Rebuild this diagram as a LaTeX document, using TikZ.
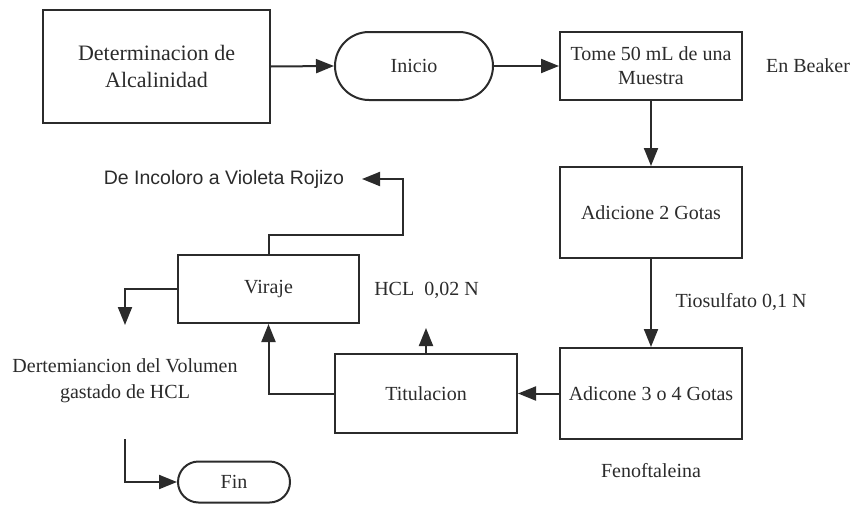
\documentclass[tikz,border=0pt]{standalone}
\usepackage{fontspec}
\setmainfont{Liberation Serif}
\newfontfamily\sansf{Liberation Sans}
\usetikzlibrary{arrows.meta,shapes.misc}
\definecolor{ink}{HTML}{2B2B2B}
\tikzset{
  box/.style={draw=ink, line width=2pt, rectangle, align=center, text=ink,
    inner sep=0pt, font=\fontsize{20}{24}\selectfont},
  pill/.style={box, rounded rectangle, rounded rectangle arc length=180},
  lbl/.style={text=ink, align=center, inner sep=0pt, font=\fontsize{20}{24}\selectfont},
  arr/.style={draw=ink, line width=2pt, -{Triangle[length=18pt,width=14pt]}},
  ln/.style={draw=ink, line width=2pt}
}
\begin{document}
\begin{tikzpicture}[x=1pt,y=-1pt]
\useasboundingbox (0,0) rectangle (851,506);

% process boxes
\node[box, minimum width=227pt, minimum height=113pt,
      font=\fontsize{22}{27}\selectfont] (det) at (156.5,66.5)
      {Determinacion de\\Alcalinidad};
\node[pill, minimum width=158pt, minimum height=68pt] (ini) at (414,66) {Inicio};
\node[box, minimum width=182pt, minimum height=68pt] (tome) at (651,66)
      {Tome 50 mL de una\\Muestra};
\node[box, minimum width=182pt, minimum height=91pt] (ad2) at (651,212.5) {Adicione 2 Gotas};
\node[box, minimum width=182pt, minimum height=91pt] (ad3) at (651,393.5) {Adicone 3 o 4 Gotas};
\node[box, minimum width=182pt, minimum height=79pt] (tit) at (426,393.5) {Titulacion};
\node[box, minimum width=181pt, minimum height=68pt] (vir) at (268.5,289) {Viraje};
\node[pill, minimum width=112pt, minimum height=41pt] (fin) at (234,482) {Fin};

% free labels
\node[lbl] (beaker) at (808,66) {En Beaker};
\node[lbl] (tio) at (741,302) {Tiosulfato 0,1 N};
\node[lbl] (feno) at (651,471) {Fenoftaleina};
\node[lbl] (hcl) at (426.5,290) {HCL\ \ 0,02 N};
\node[lbl, font=\sansf\fontsize{19.5}{24}\selectfont] (roj) at (224,179) {De Incoloro a Violeta Rojizo};
\node[lbl, font=\fontsize{20}{26}\selectfont] (vol) at (125,381)
      {Dertemiancion del Volumen\\gastado de HCL};

% loose ends
\coordinate (hcltip) at (426,328);
\coordinate (rojtip) at (362,179);
\coordinate (voltip) at (125,325);
\coordinate (volout) at (125,439);

% connectors
\draw[arr] (det.east) -- (ini.west);
\draw[arr] (ini.east) -- (tome.west);
\draw[arr] (tome.south) -- (ad2.north);
\draw[arr] (ad2.south) -- (ad3.north);
\draw[arr] (ad3.west) -- (tit.east);
\draw[arr] (tit.north -| hcltip) -- (hcltip);
\draw[arr] (tit.west) -| (vir.south);
\draw[arr] (vir.north) -- (268.5,235) -- (403,235) -- (403,179) -- (rojtip);
\draw[arr] (vir.west) -| (voltip);
\draw[arr] (volout) |- (fin.west);
\end{tikzpicture}
\end{document}
